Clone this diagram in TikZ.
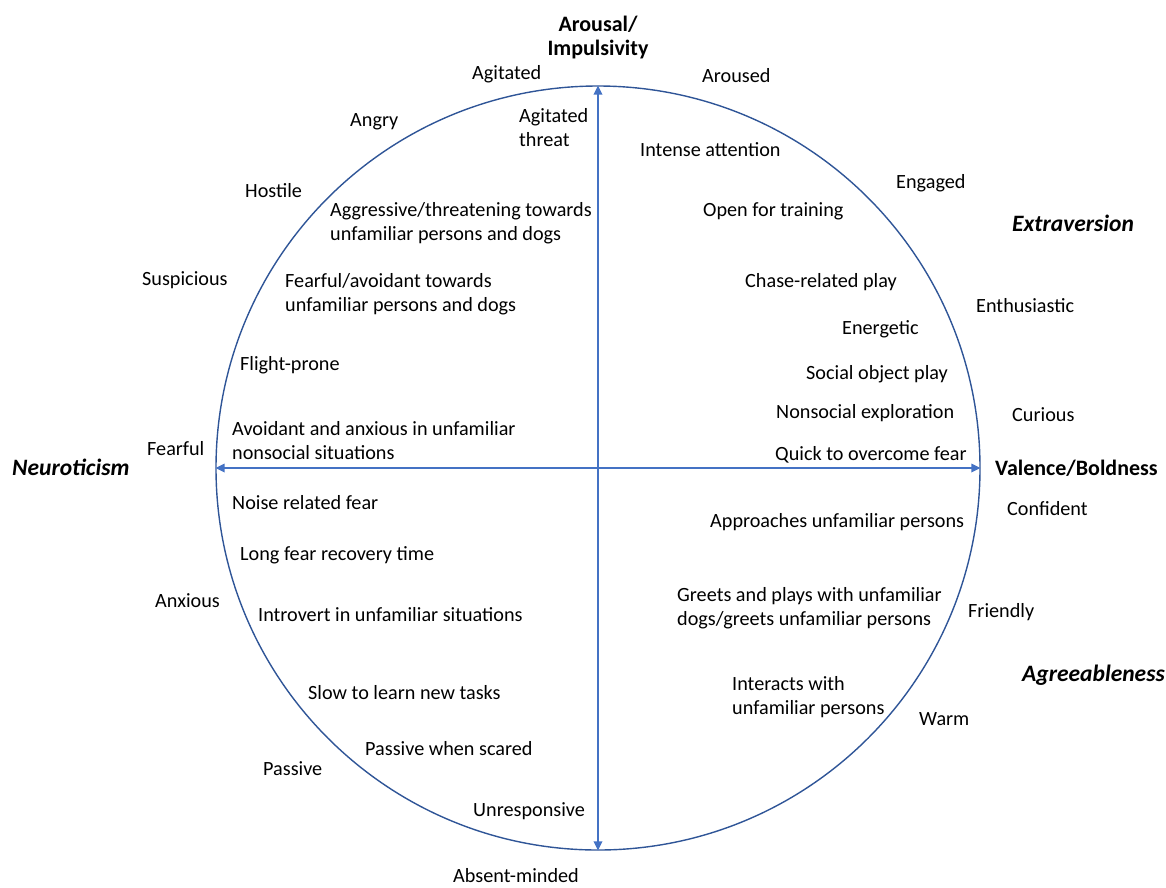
\documentclass[tikz,border=0pt]{standalone}
\usepackage{fontspec}
\setmainfont{Carlito}
\usepackage{xcolor}
\usetikzlibrary{arrows.meta,positioning}

\definecolor{ringblue}{HTML}{2F5597}
\definecolor{axisblue}{HTML}{4472C4}

\begin{document}
\begin{tikzpicture}[
  x=1pt, y=-1pt,
  every node/.style={font=\fontsize{20.2}{24}\selectfont, inner sep=0pt},
  trait/.style={anchor=west, align=left, yshift=-1.5pt},
  axislabel/.style={font=\fontsize{22}{24}\selectfont\bfseries, align=center},
  factor/.style={font=\fontsize{23.5}{24}\selectfont\bfseries\itshape},
  ring/.style={draw=ringblue, line width=1.4pt, circle, minimum size=764pt},
  axis/.style={{Triangle[length=3.3mm,width=2.9mm]}-{Triangle[length=3.3mm,width=2.9mm]}, draw=axisblue, line width=2.5pt}
]
\useasboundingbox (0,0) rectangle (1166,887);

\node[ring] (wheel) at (598,468) {};

% axes
\draw[axis] (wheel.south) -- (wheel.north);
\draw[axis] (wheel.west) -- (wheel.east);

% axis and factor labels
\node[axislabel] (arousal) at (598,38) {Arousal/\\Impulsivity};
\node[axislabel, anchor=west] (valence) at (995,468) {Valence/Boldness};
\node[factor, anchor=west] (neuro) at (12,467) {Neuroticism};
\node[factor, anchor=west] (extra) at (1012,223) {Extraversion};
\node[factor, anchor=west] (agree) at (1022,675) {Agreeableness};

% outer adjectives
\node[trait] (agitated) at (472,73) {Agitated};
\node[trait] (aroused) at (702,74) {Aroused};
\node[trait] (angry) at (350,120) {Angry};
\node[trait] (engaged) at (896,182) {Engaged};
\node[trait] (hostile) at (245,189) {Hostile};
\node[trait] (suspicious) at (142,279) {Suspicious};
\node[trait] (enthusiastic) at (976,304) {Enthusiastic};
\node[trait] (curious) at (1012,413) {Curious};
\node[trait] (fearful) at (147,447) {Fearful};
\node[trait] (confident) at (1007,507) {Confident};
\node[trait] (anxious) at (155,599) {Anxious};
\node[trait] (friendly) at (968,611) {Friendly};
\node[trait] (warm) at (919,718) {Warm};
\node[trait] (passive) at (263,767) {Passive};
\node[trait] (absent) at (453,874) {Absent-minded};

% behaviours inside the circle
\node[trait] (agthreat) at (519,126) {Agitated\\threat};
\node[trait] (intense) at (640,148) {Intense attention};
\node[trait] (training) at (703,210) {Open for training};
\node[trait] (aggressive) at (330,222) {Aggressive/threatening towards\\unfamiliar persons and dogs};
\node[trait] (avoidfear) at (285,293) {Fearful/avoidant towards\\unfamiliar persons and dogs};
\node[trait] (chase) at (745,281) {Chase-related play};
\node[trait] (energetic) at (842,328) {Energetic};
\node[trait] (flight) at (240,364) {Flight-prone};
\node[trait] (objplay) at (806,373) {Social object play};
\node[trait] (explore) at (776,412) {Nonsocial exploration};
\node[trait] (nonsocial) at (232,439) {Avoidant and anxious in unfamiliar\\nonsocial situations};
\node[trait] (quick) at (775,453) {Quick to overcome fear};
\node[trait] (noise) at (232,501) {Noise related fear};
\node[trait] (approach) at (710,521) {Approaches unfamiliar persons};
\node[trait] (recovery) at (240,554) {Long fear recovery time};
\node[trait] (greets) at (677,607) {Greets and plays with unfamiliar\\dogs/greets unfamiliar persons};
\node[trait] (introvert) at (258,613) {Introvert in unfamiliar situations};
\node[trait] (interacts) at (732,696) {Interacts with\\unfamiliar persons};
\node[trait] (slow) at (308,691) {Slow to learn new tasks};
\node[trait] (scared) at (365,747) {Passive when scared};
\node[trait] (unresp) at (473,810) {Unresponsive};
\end{tikzpicture}
\end{document}
